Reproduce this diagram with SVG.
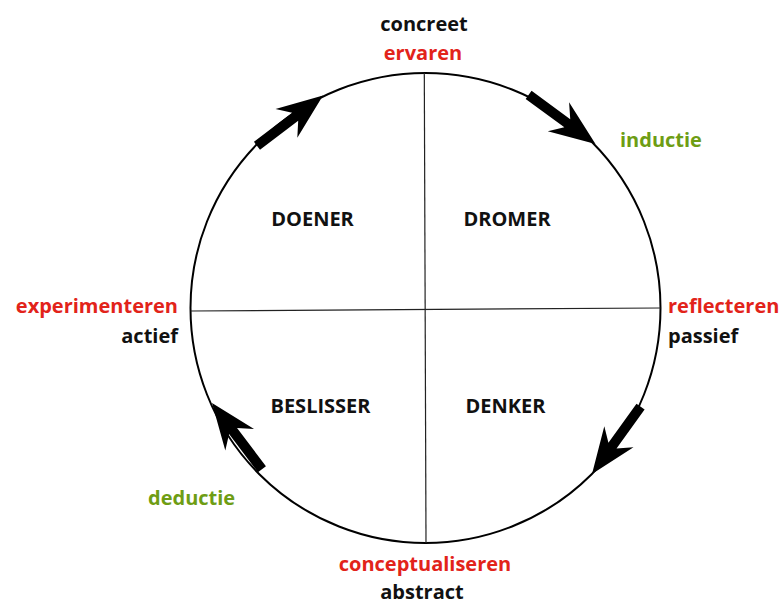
<svg xmlns="http://www.w3.org/2000/svg" width="782" height="605" viewBox="0 0 782 605">
<defs>
<style>
text{font-family:"Open Sans","Noto Sans","DejaVu Sans",sans-serif;font-weight:700;font-size:20px}
.k{fill:#111}
.r{fill:#e2231a}
.g{fill:#6e9d14}
.m{text-anchor:middle}
.e{text-anchor:end}
.ax{stroke:#222;stroke-width:1.2;fill:none}
.arr{fill:#000}
</style>
</defs>
<rect width="782" height="605" fill="#fff"/>
<g id="frame">
<circle cx="425.5" cy="308" r="235" fill="none" stroke="#000" stroke-width="2"/>
<line class="ax" x1="424.3" y1="73" x2="426" y2="543"/>
<line class="ax" x1="190.5" y1="311" x2="660.5" y2="308"/>
</g>
<g id="connectors">
<path class="arr" transform="translate(323,95.5) rotate(-37.3)" d="M0,0 L-46,-18 L-35,-5 L-83,-5 L-83,5 L-35,5 L-46,18 Z"/>
<path class="arr" transform="translate(595.5,144) rotate(36.3)" d="M0,0 L-46,-18 L-35,-5 L-83,-5 L-83,5 L-35,5 L-46,18 Z"/>
<path class="arr" transform="translate(592,474) rotate(125.8)" d="M0,0 L-46,-18 L-35,-5 L-83,-5 L-83,5 L-35,5 L-46,18 Z"/>
<path class="arr" transform="translate(212,403) rotate(-127)" d="M0,0 L-46,-18 L-35,-5 L-83,-5 L-83,5 L-35,5 L-46,18 Z"/>
</g>
<g id="doener"><text class="k m" x="312.5" y="226">DOENER</text></g>
<g id="dromer"><text class="k m" x="507" y="226">DROMER</text></g>
<g id="beslisser"><text class="k m" x="320.5" y="413">BESLISSER</text></g>
<g id="denker"><text class="k m" x="505.5" y="413">DENKER</text></g>
<g id="top"><text class="k m" x="424" y="31">concreet</text><text class="r m" x="423" y="60">ervaren</text></g>
<g id="bottom"><text class="r m" x="425" y="571">conceptualiseren</text><text class="k m" x="422" y="599">abstract</text></g>
<g id="left"><text class="r e" x="178" y="313">experimenteren</text><text class="k e" x="178" y="343">actief</text></g>
<g id="right"><text class="r" x="668" y="313">reflecteren</text><text class="k" x="668" y="343">passief</text></g>
<g id="inductie"><text class="g" x="620" y="147">inductie</text></g>
<g id="deductie"><text class="g" x="148" y="505">deductie</text></g>
</svg>
